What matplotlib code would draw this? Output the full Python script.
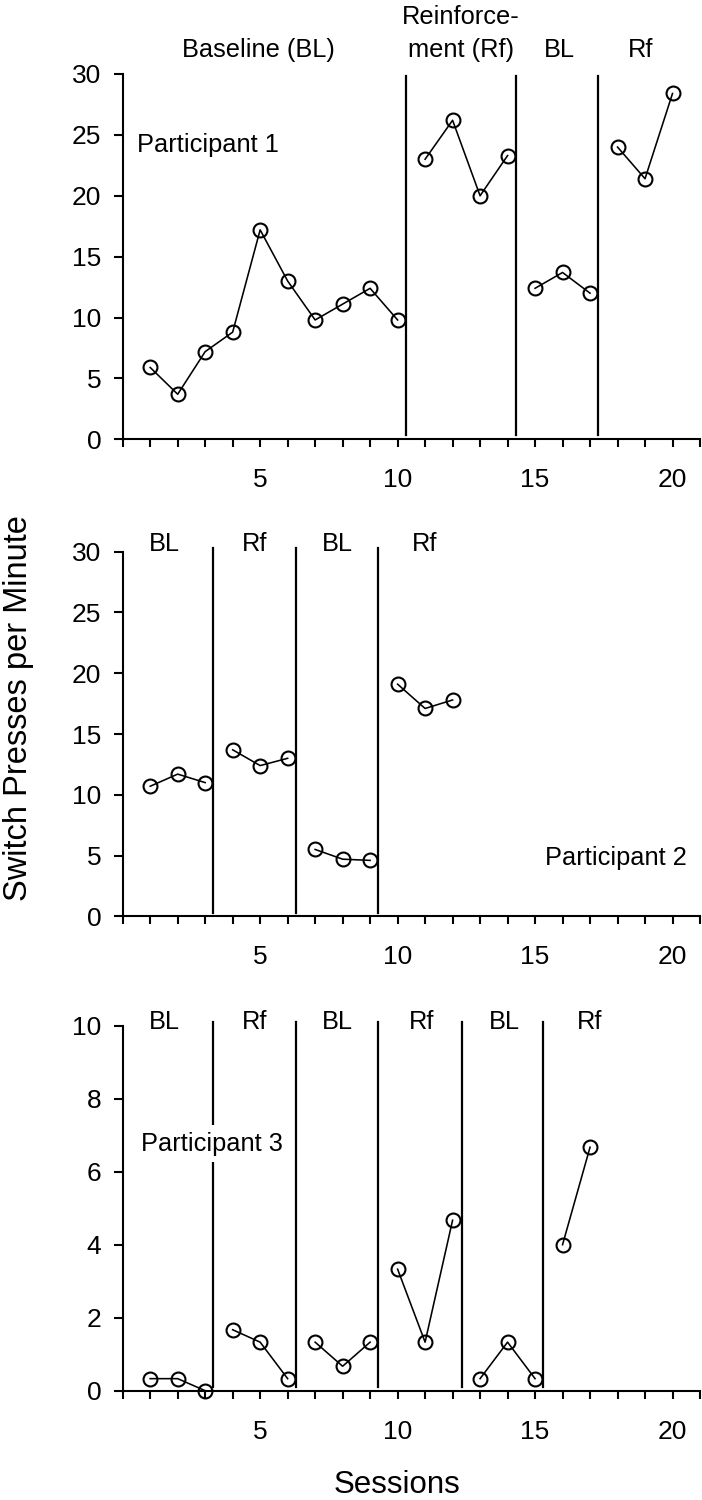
import numpy as np
import matplotlib
matplotlib.use('Agg')
import matplotlib.pyplot as plt
from matplotlib.ticker import MultipleLocator, FixedLocator

plt.rcParams['font.family'] = ['Liberation Sans', 'DejaVu Sans']

# ---------------- data ----------------
p1_sessions = list(range(1, 21))
p1_values = [5.9, 3.7, 7.2, 8.8, 17.2, 13.0, 9.8, 11.1, 12.4, 9.8,
             23.0, 26.2, 20.0, 23.3, 12.4, 13.7, 12.0, 24.0, 21.4, 28.4]
p1_changes = [10.3, 14.3, 17.3]

p2_sessions = list(range(1, 13))
p2_values = [10.7, 11.7, 11.0, 13.7, 12.4, 13.0, 5.5, 4.7, 4.6, 19.1, 17.1, 17.8]
p2_changes = [3.3, 6.3, 9.3]

p3_sessions = list(range(1, 18))
p3_values = [0.33, 0.33, 0.0, 1.67, 1.33, 0.33, 1.33, 0.67, 1.33,
             3.33, 1.33, 4.67, 0.33, 1.33, 0.33, 4.0, 6.67]
p3_changes = [3.3, 6.3, 9.3, 12.35, 15.3]

x_tick_labels = ['5', '10', '15', '20']
p1_phase_names = ['Baseline (BL)', 'ment (Rf)', 'BL', 'Rf']
p2_phase_names = ['BL', 'Rf', 'BL', 'Rf']
p3_phase_names = ['BL', 'Rf', 'BL', 'Rf', 'BL', 'Rf']

# ---------------- layout ----------------
W, H = 702, 1500
fig = plt.figure(figsize=(W / 100, H / 100), dpi=100)

ax_left = 122.7 / W
ax_w = (700 - 122.7) / W
panels = [
    dict(top=74.0, bottom=439.3, ymax=30, ystep=5,
         s=p1_sessions, v=p1_values, ch=p1_changes,
         line_y=(0.35, 29.8)),
    dict(top=551.7, bottom=916.3, ymax=30, ystep=5,
         s=p2_sessions, v=p2_values, ch=p2_changes,
         line_y=(0.3, 30.3)),
    dict(top=1025.7, bottom=1390.7, ymax=10, ystep=2,
         s=p3_sessions, v=p3_values, ch=p3_changes,
         line_y=(0.1, 10.1)),
]

FS = 18.3
TICK_FS = 19
axes = []
for p in panels:
    ax = fig.add_axes([ax_left, 1 - p['bottom'] / H, ax_w, (p['bottom'] - p['top']) / H])
    axes.append(ax)
    ax.set_xlim(0, 21)
    ax.set_ylim(0, p['ymax'])
    for sp in ['top', 'right']:
        ax.spines[sp].set_visible(False)
    for sp in ['left', 'bottom']:
        ax.spines[sp].set_linewidth(1.5)
    ax.xaxis.set_major_locator(FixedLocator([5, 10, 15, 20]))
    ax.set_xticklabels(x_tick_labels)
    ax.xaxis.set_minor_locator(FixedLocator([i for i in range(0, 22) if i not in (5, 10, 15, 20)]))
    ax.yaxis.set_major_locator(MultipleLocator(p['ystep']))
    ax.tick_params(axis='x', which='both', direction='out', length=6, width=1.5,
                   labelsize=TICK_FS, pad=15)
    ax.tick_params(axis='y', which='major', direction='out', length=6.5, width=1.5,
                   labelsize=TICK_FS, pad=9)
    for t in ax.xaxis.get_major_ticks() + ax.xaxis.get_minor_ticks():
        t.tick1line.set_clip_on(False)

    # data, split into phases
    s = np.array(p['s'], dtype=float)
    v = np.array(p['v'], dtype=float)
    edges = [0] + list(p['ch']) + [100]
    for a, b in zip(edges[:-1], edges[1:]):
        m = (s > a) & (s < b)
        if m.any():
            ax.plot(s[m], v[m], color='black', lw=1.15, marker='o', ms=10,
                    mfc='none', mec='black', mew=1.5, clip_on=False, zorder=3)
    for c in p['ch']:
        ax.plot([c, c], list(p['line_y']), color='black', lw=1.6, clip_on=False, zorder=2)

ax1, ax2, ax3 = axes

# phase labels
ax1.text(4.94, 31.4, p1_phase_names[0], ha='center', va='baseline', fontsize=FS, clip_on=False)
ax1.text(12.3, 34.1, 'Reinforce-', ha='center', va='baseline', fontsize=FS, clip_on=False)
ax1.text(12.3, 31.4, p1_phase_names[1], ha='center', va='baseline', fontsize=FS, clip_on=False)
ax1.text(15.9, 31.4, p1_phase_names[2], ha='center', va='baseline', fontsize=FS, clip_on=False)
ax1.text(18.85, 31.4, p1_phase_names[3], ha='center', va='baseline', fontsize=FS, clip_on=False)

for x, name in zip([1.53, 4.8, 7.8, 11.0], p2_phase_names):
    ax2.text(x, 30.05, name, ha='center', va='baseline', fontsize=FS, clip_on=False)
for x, name in zip([1.53, 4.8, 7.8, 10.86, 13.9, 16.98], p3_phase_names):
    ax3.text(x, 9.9, name, ha='center', va='baseline', fontsize=FS, clip_on=False)

# participant labels
ax1.text(0.52, 23.6, 'Participant 1', ha='left', va='baseline', fontsize=FS)
ax2.text(20.5, 4.2, 'Participant 2', ha='right', va='baseline', fontsize=FS)
ax3.text(0.65, 6.58, 'Participant 3', ha='left', va='baseline', fontsize=FS, zorder=5,
         bbox=dict(facecolor='white', edgecolor='none', pad=4.5))

# axis titles
fig.text(19 / W, 1 - 708 / H, 'Switch Presses per Minute', rotation=90,
         ha='center', va='center', fontsize=23.5)
fig.text(397 / W, 1 - 1493 / H, 'Sessions', ha='center', va='baseline', fontsize=22.5)

fig.savefig('out.png', dpi=100)
